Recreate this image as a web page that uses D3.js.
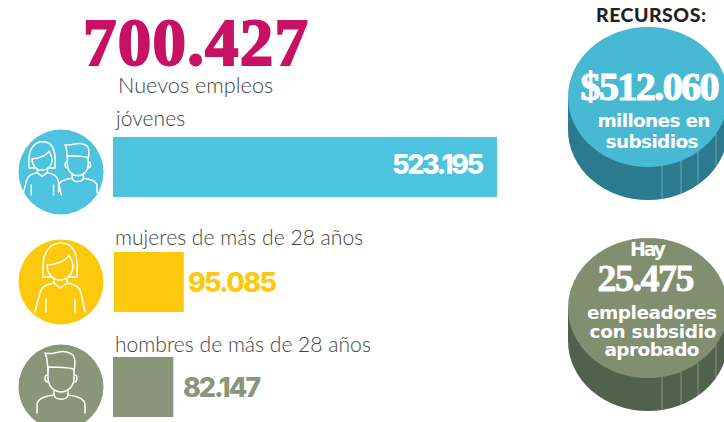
<!DOCTYPE html>
<html>
<head>
<meta charset="utf-8">
<style>
  html, body { margin: 0; padding: 0; background: #fff; overflow: hidden; }
  svg { display: block; }
  text { font-family: Lato, sans-serif; }
</style>
<script src="https://cdnjs.cloudflare.com/ajax/libs/d3/7.8.5/d3.min.js"></script>
</head>
<body>
<svg id="chart" width="724" height="422"></svg>
<script>
// data
const categories = ["jóvenes", "mujeres de más de 28 años", "hombres de más de 28 años"];
const values     = [523195, 95085, 82147];
const valueText  = ["523.195", "95.085", "82.147"];
const colors     = ["#4dc3e0", "#fcc90d", "#8a9679"];
const totalText  = "700.427";
const totalLabel = "Nuevos empleos";

const svg = d3.select("#chart");
const serif = "'Liberation Serif'";

// 1) Header
svg.append("text").attr("x", 83).attr("y", 64.5)
  .attr("textLength", 225)
  .style("font-family", serif).style("font-weight", 700)
  .style("font-size", "67px")
  .attr("fill", "#c71162").attr("stroke", "#c71162").attr("stroke-width", 2)
  .text(totalText);

svg.append("text").attr("x", 118).attr("y", 93)
  .style("font-weight", 300).style("font-size", "21.7px")
  .attr("fill", "#444").text(totalLabel);

// 2) Bars
const x = d3.scaleLinear().domain([0, d3.max(values)]).range([0, 384]);
const rows = d3.scaleOrdinal().domain(categories).range([137, 252, 357]);
const barLeft = [113, 114, 113];
const circleY = [172, 282, 387];
const labelY  = [126, 245, 352];
const labelX  = [116, 115, 115];
const numX    = [392, 188, 183];
const numY    = [174, 292, 397];
const numW    = [92, 89, 78];

const row = svg.selectAll("g.row").data(categories).join("g").attr("class", "row");

row.append("circle")
  .attr("cx", 61).attr("cy", (d, i) => circleY[i]).attr("r", 42.5)
  .attr("fill", (d, i) => colors[i]);

row.append("rect")
  .attr("x", (d, i) => barLeft[i]).attr("y", d => rows(d))
  .attr("width", (d, i) => x(values[i])).attr("height", 60)
  .attr("fill", (d, i) => colors[i]);

row.append("text")
  .attr("x", (d, i) => labelX[i]).attr("y", (d, i) => labelY[i])
  .style("font-weight", 300).style("font-size", "21.1px")
  .attr("fill", "#444").text(d => d);

row.append("text")
  .attr("x", (d, i) => numX[i]).attr("y", (d, i) => numY[i])
  .attr("textLength", (d, i) => numW[i])
  .style("font-family", "Inter").style("font-weight", 800).style("font-size", "27px")
  .attr("fill", (d, i) => i === 0 ? "#fff" : colors[i])
  .text((d, i) => valueText[i]);

// 3) Icons (white outline figures)
const hairWoman = "M-17,-5 C-18,-28 -8,-34 1,-34 C12,-34 18,-26 17,-5 L17,0 L8,0 M-17,-5 L-17,0 L-9,0";
const faceWoman = "M-13,-12 C-5,-12 6,-16 9,-22 C11,-18 13,-16 13,-11 C13,-2 6,3 0,3 C-7,3 -13,-3 -13,-12";
const bodyWoman = "M-6,2 L-6,6 L0,11 L7,6 L7,2 M-6,6 C-16,8 -19,11 -20,16 L-25,35 M7,6 C17,8 20,11 21,16 L25,35 M-14,22 L-14,35 M15,22 L15,35";
const hairMan   = "M-13,-22 L-15,-28 C-6,-25 2,-34 13,-26 C16,-22 15,-15 14,-10 M-13,-22 L-12,-10";
const faceMan   = "M-12,-14 L-12,-3 C-12,6 -5,11 1,11 C7,11 14,6 14,-3 L14,-12 C6,-14 -4,-14 -12,-14 M-12,-6 C-16,-7 -16,1 -12,1 M14,-6 C18,-7 18,1 14,1";
const bodyMan   = "M-6,9 L-6,13 C-6,20 8,20 8,13 L8,9 M-6,14 C-14,15 -23,17 -23,24 L-23,32 M8,14 C16,15 25,17 25,24 L25,32";

const icon = (cx, cy, k, paths) => {
  const g = svg.append("g")
    .attr("transform", `translate(${cx},${cy}) scale(${k})`)
    .attr("fill", "none").attr("stroke", "#fff")
    .attr("stroke-width", 1.5 / k).attr("stroke-linecap", "round").attr("stroke-linejoin", "round");
  paths.forEach(p => g.append("path").attr("d", p));
};
icon(42, 168, 0.77, [hairWoman, faceWoman, bodyWoman]);
icon(77, 167, 0.8, [hairMan, faceMan, bodyMan]);
icon(60, 277, 1, [hairWoman, faceWoman, bodyWoman]);
icon(60, 381, 1, [hairMan, faceMan, bodyMan]);

// 4) Cylinders
const seams = [662, 681, 698, 716];
function cylinder(cy, top, side, seam) {
  const cx = 648, rx = 80, ry = 70, depth = 33;
  svg.append("path")
    .attr("d", `M${cx - rx},${cy} L${cx - rx},${cy + depth} A${rx},${ry} 0 0 0 ${cx + rx},${cy + depth} L${cx + rx},${cy} Z`)
    .attr("fill", side);
  seams.forEach(sx => {
    const t = (sx - cx) / rx;
    const yEdge = cy + ry * Math.sqrt(1 - t * t);
    svg.append("line").attr("x1", sx).attr("x2", sx)
      .attr("y1", yEdge).attr("y2", yEdge + depth)
      .attr("stroke", seam).attr("stroke-width", 0.7);
  });
  svg.append("ellipse").attr("cx", cx).attr("cy", cy)
    .attr("rx", rx).attr("ry", ry).attr("fill", top);
}
cylinder(97, "#47b9d3", "#2b7a8e", "#8fbcc7");
cylinder(308, "#818e70", "#51614c", "#a3ad98");

const label = (t, cx, y, size, weight, family, len, sw) => {
  const s = svg.append("text").attr("x", cx).attr("y", y).attr("text-anchor", "middle")
    .style("font-family", family).style("font-weight", weight).style("font-size", size + "px")
    .attr("fill", "#fff").text(t);
  if (len) s.attr("textLength", len);
  if (sw) s.attr("stroke", "#fff").attr("stroke-width", sw);
  return s;
};

label("RECURSOS:", 651, 22, 19.5, 900, "Lato", 110).attr("fill", "#231f20");
label("$512.060", 650, 100, 40, 700, serif, 139, 1.2);
label("millones en", 654, 127, 18.5, 700, "'DejaVu Sans'", 113);
label("subsidios", 652, 148, 18.5, 700, "'DejaVu Sans'", 93);

label("Hay", 648, 256, 19, 700, "'DejaVu Sans'", 36);
label("25.475", 646, 291, 38, 700, serif, 97, 0.8);
label("empleadores", 652, 319, 18.5, 700, "'DejaVu Sans'", 130);
label("con subsidio", 653, 338, 18.5, 700, "'DejaVu Sans'", 127);
label("aprobado", 652, 356, 18.5, 700, "'DejaVu Sans'", 95);
</script>
</body>
</html>
